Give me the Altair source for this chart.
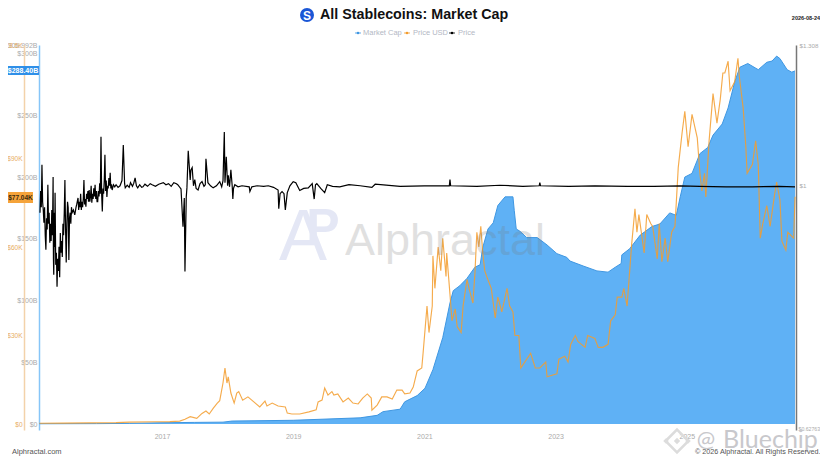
import altair as alt
import pandas as pd

cap_years = [2015.13,2016.0,2016.5,2017.0,2017.5,2017.93,2018.07,2019.0,2020.02,2020.28,2020.37,2020.63,2020.70,2020.89,2021.01,2021.13,2021.28,2021.39,2021.44,2021.54,2021.65,2021.77,2021.85,2021.89,2021.97,2022.05,2022.12,2022.23,2022.35,2022.37,2022.40,2022.46,2022.56,2022.72,2022.87,2023.02,2023.17,2023.22,2023.42,2023.63,2023.80,2023.91,2024.00,2024.01,2024.13,2024.29,2024.47,2024.59,2024.74,2024.84,2024.90,2024.97,2025.08,2025.20,2025.32,2025.40,2025.54,2025.63,2025.73,2025.81,2025.93,2026.09,2026.22,2026.30,2026.37,2026.42,2026.53,2026.60,2026.65]
cap_values = [0.2,0.3,0.5,1,1.3,1.5,2.4,3,5,7,10,12,18,23,29,44,70,98,108,112,118,127,129,143,158,163,177,184,184,173,158,156,151,151,145,138,135,132,128,124,123,127,130,137,142,153,160,162,171,169,184,200,203,219,224,234,243,256,277,289,292,287,293,294,298,296,287,285,286]

usd_years = [2015.13,2015.5,2015.9,2016.3,2016.5,2016.9,2017.12,2017.27,2017.35,2017.43,2017.53,2017.61,2017.67,2017.72,2017.78,2017.84,2017.88,2017.93,2017.96,2017.99,2018.01,2018.05,2018.10,2018.14,2018.17,2018.23,2018.31,2018.40,2018.49,2018.57,2018.60,2018.68,2018.77,2018.88,2018.91,2018.98,2019.10,2019.24,2019.35,2019.38,2019.44,2019.48,2019.53,2019.59,2019.62,2019.68,2019.76,2019.84,2019.91,2019.99,2020.06,2020.13,2020.19,2020.20,2020.28,2020.35,2020.43,2020.51,2020.58,2020.66,2020.70,2020.78,2020.83,2020.89,2020.93,2020.96,2020.98,2021.01,2021.04,2021.07,2021.12,2021.13,2021.16,2021.21,2021.25,2021.28,2021.33,2021.34,2021.39,2021.42,2021.47,2021.50,2021.56,2021.59,2021.65,2021.68,2021.74,2021.77,2021.80,2021.83,2021.86,2021.89,2021.92,2021.95,2022.02,2022.08,2022.12,2022.18,2022.26,2022.30,2022.35,2022.38,2022.44,2022.47,2022.56,2022.62,2022.69,2022.76,2022.85,2022.87,2023.02,2023.05,2023.14,2023.19,2023.23,2023.30,2023.34,2023.45,2023.49,2023.60,2023.65,2023.72,2023.80,2023.84,2023.91,2023.94,2024.01,2024.04,2024.09,2024.13,2024.16,2024.21,2024.24,2024.27,2024.35,2024.39,2024.45,2024.48,2024.55,2024.58,2024.62,2024.67,2024.71,2024.77,2024.82,2024.87,2024.93,2024.97,2025.02,2025.08,2025.16,2025.20,2025.23,2025.27,2025.29,2025.34,2025.40,2025.46,2025.51,2025.55,2025.58,2025.63,2025.66,2025.73,2025.78,2025.80,2025.86,2025.90,2025.92,2026.00,2026.05,2026.09,2026.12,2026.16,2026.22,2026.27,2026.34,2026.37,2026.42,2026.45,2026.51,2026.54,2026.63,2026.65]
usd_values = [0.25,0.3,0.4,0.45,0.65,0.75,0.8,1,1.6,2.5,1.9,3.6,4.4,3.4,5.3,7,7.9,13.9,19,13.9,16,10.5,7.1,10.5,11,8.1,9.2,7.5,5.8,7.8,6.1,7.1,6.1,5.8,3.7,3.4,3.4,4.1,4.8,7.5,8.1,12.2,9.8,11,9.8,10.2,7.5,8.8,7.1,6.8,8.8,10.2,8.8,4.7,6.4,9.2,9.2,8.5,11.5,11.5,10.2,10.5,12.5,18,18.6,19,24,32,40,31,40,57,46,60,52,63,50,58,44,35,39,33,31,40,49,46,41,51,65,60,67,58,52,50,46,36,43,38,46,40,38,30,30,19,22,24,19,19,21,16,17,22,23,21,27,30,28,26,30,29,26,26,27,35,37,43,43,46,40,52,61,73,65,71,58,71,68,67,56,68,55,63,55,65,67,87,99,106,94,105,97,85,79,85,77,96,112,102,110,119,119,123,113,116,124,118,107,94,85,88,96,88,63,68,74,67,78,82,76,62,59,65,63,77.04]

peg_points = [
 (2015.14,.950),(2015.15,.99),(2015.16,.96),(2015.17,1.041),(2015.18,.97),(2015.19,.955),(2015.20,.932),(2015.21,.96),(2015.22,.91),(2015.23,.885),
 (2015.24,.94),(2015.25,.92),(2015.26,1.002),(2015.27,.93),(2015.28,.95),(2015.29,.897),(2015.30,.93),(2015.31,.90),(2015.32,.955),(2015.33,.91),
 (2015.34,1.017),(2015.345,.87),(2015.35,.844),(2015.36,.95),(2015.365,.89),(2015.37,.987),(2015.38,.86),(2015.39,.88),(2015.40,.825),(2015.41,.87),
 (2015.42,.85),(2015.43,.89),(2015.44,.84),(2015.45,.914),(2015.46,.88),(2015.47,.90),(2015.48,.873),(2015.49,.93),(2015.50,.91),(2015.51,.95),
 (2015.52,1.011),(2015.53,.92),(2015.54,.864),(2015.55,.93),(2015.56,.97),(2015.57,.959),(2015.58,.868),(2015.59,.94),(2015.60,.95),(2015.61,.93),
 (2015.62,.96),(2015.63,.950),(2015.65,.955),(2015.67,.946),(2015.69,.96),(2015.70,.965),(2015.72,.977),(2015.73,.955),(2015.74,.97),(2015.75,.96),
 (2015.76,.985),(2015.77,.955),(2015.78,.97),(2015.79,.96),(2015.80,.975),(2015.81,1.011),(2015.82,.965),(2015.83,.975),(2015.84,.961),(2015.85,.985),
 (2015.86,.975),(2015.87,.99),(2015.88,.97),(2015.89,.992),(2015.90,.97),(2015.91,.98),(2015.92,1.0),(2015.93,.968),(2015.94,.985),(2015.95,.975),
 (2015.96,.995),(2015.97,.98),(2015.98,1.002),(2015.99,.975),(2016.0,.99),(2016.01,.97),(2016.02,.970),(2016.03,.99),(2016.04,.98),(2016.05,1.005),
 (2016.06,.985),(2016.07,1.098),(2016.08,.985),(2016.09,.952),(2016.10,.995),(2016.11,.985),(2016.12,1.01),(2016.13,1.061),(2016.14,.99),(2016.15,1.01),
 (2016.16,.979),(2016.17,1.0),(2016.18,.995),(2016.19,1.015),(2016.20,1.0),(2016.21,1.025),(2016.22,.995),(2016.23,1.003),(2016.24,.992),(2016.26,1.002),
 (2016.28,.998),(2016.30,1.002),(2016.33,.997),(2016.36,1.0),(2016.39,1.01),(2016.41,1.081),(2016.43,1.004),(2016.44,.996),(2016.47,1.001),(2016.50,.997),
 (2016.52,1.006),(2016.55,.999),(2016.57,1.005),(2016.59,1.015),(2016.61,1.0),(2016.63,.996),(2016.66,1.002),(2016.69,.997),(2016.71,.998),(2016.74,1.003),
 (2016.78,.999),(2016.82,1.004),(2016.85,1.002),(2016.9,.999),(2016.95,1.003),(2017.02,1.006),(2017.06,1.002),(2017.10,1.004),(2017.14,.999),(2017.18,1.006),
 (2017.22,1.004),(2017.24,1.002),(2017.29,.994),(2017.32,.925),(2017.34,.977),(2017.35,.849),(2017.37,.979),(2017.38,.996),(2017.40,1.069),(2017.43,1.011),
 (2017.44,1.03),(2017.46,1.035),(2017.48,1.0),(2017.50,1.012),(2017.52,.995),(2017.55,.992),(2017.58,1.004),(2017.61,1.008),(2017.64,.999),(2017.66,1.002),
 (2017.67,1.053),(2017.70,1.006),(2017.74,1.0),(2017.78,.996),(2017.83,1.0),(2017.88,1.008),(2017.91,.998),(2017.93,1.01),(2017.95,1.108),(2017.96,1.006),
 (2017.98,1.057),(2018.0,1.0),(2018.01,1.02),(2018.03,.998),(2018.05,1.031),(2018.07,1.0),(2018.08,.975),(2018.09,.995),(2018.11,1.002),(2018.16,.998),
 (2018.22,1.0),(2018.33,.998),(2018.34,.989),(2018.37,.998),(2018.45,1.0),(2018.55,.999),(2018.62,1.0),(2018.70,.997),(2018.77,.992),(2018.78,.957),
 (2018.80,.985),(2018.83,.989),(2018.86,.985),(2018.88,.955),(2018.91,.987),(2018.95,1.0),(2019.0,1.008),(2019.04,1.006),(2019.10,.991),(2019.16,.995),
 (2019.23,.996),(2019.29,1.004),(2019.32,.975),(2019.34,1.002),(2019.36,1.004),(2019.42,.995),(2019.48,.987),(2019.52,1.002),(2019.6,.999),(2019.71,.998),
 (2019.85,1.002),(2020.02,1.0),(2020.2,.997),(2020.25,1.003),(2020.63,.999),(2021.0,1.0),(2021.38,1.0),(2021.39,1.012),(2021.40,1.0),(2021.8,.999),
 (2022.15,1.001),(2022.5,.999),(2022.75,1.0),(2022.76,1.006),(2022.77,1.0),(2023.2,.999),(2023.6,1.0),(2024.1,.999),(2024.5,.999),(2024.9,1.0),
 (2025.2,.999),(2025.6,.998),(2026.0,.998),(2026.4,.999),(2026.65,.998),
]

x_ticks = [2017, 2019, 2021, 2023, 2025]
cap_ticks = [0, 50, 100, 150, 200, 250, 300, 306.992]
usd_ticks = [0, 30, 60, 90, 128.5]
peg_ticks = [1, 1.308]

FONT = "Liberation Sans"
LEFT, TOP = 39, 45

xs = alt.Scale(domain=[2015.125, 2026.665], nice=False, zero=False)
xa = alt.Axis(values=x_ticks, format="d", title=None, grid=False, domain=False, ticks=False,
              labelColor="#aaaaaa", labelFont=FONT, labelFontSize=7, labelPadding=2)
X = alt.X("year:Q", scale=xs, axis=xa)


def note(text, px, py, size, color, align="center", weight="normal", font=FONT, opacity=1.0):
    return alt.Chart(pd.DataFrame({"t": [text]})).mark_text(
        align=align, baseline="middle", font=font, fontSize=size, color=color,
        fontWeight=weight, opacity=opacity
    ).encode(x=alt.value(px - LEFT), y=alt.value(py - TOP), text="t:N")


def dot(px, py, size, color, shape="circle", filled=True, stroke=1.0):
    return alt.Chart(pd.DataFrame({"a": [1]})).mark_point(
        shape=shape, filled=filled, size=size, color=color, opacity=1, strokeWidth=stroke
    ).encode(x=alt.value(px - LEFT), y=alt.value(py - TOP))


def box(x1, x2, y1, y2, color):
    return alt.Chart(pd.DataFrame({"a": [1]})).mark_rect(color=color).encode(
        x=alt.value(x1 - LEFT), x2=alt.value(x2 - LEFT),
        y=alt.value(y1 - TOP), y2=alt.value(y2 - TOP))


cap = alt.Chart(pd.DataFrame({"year": cap_years, "v": cap_values})).mark_area(
    color="#5fb1f5", opacity=1, line={"color": "#3f97e2", "strokeWidth": 1}
).encode(
    x=X,
    y=alt.Y("v:Q", scale=alt.Scale(domain=[-4.86, 306.992], nice=False, zero=False),
            axis=alt.Axis(orient="left", values=cap_ticks, title=None, grid=False, ticks=False,
                          domainColor="#86c5f8", domainWidth=1.5, labelColor="#aaaaaa",
                          labelFont=FONT, labelFontSize=7, labelPadding=2, labelOverlap=False,
                          labelExpr="datum.value > 301 ? '$306.992B' : datum.value == 0 ? '$0' : '$' + datum.value + 'B'")),
)

usd = alt.Chart(pd.DataFrame({"year": usd_years, "v": usd_values})).mark_line(
    color="#f39c2d", strokeWidth=1.15, opacity=0.85
).encode(
    x=X,
    y=alt.Y("v:Q", scale=alt.Scale(domain=[-2.03, 128.5], nice=False, zero=False),
            axis=alt.Axis(orient="left", offset=15, values=usd_ticks, title=None, grid=False, ticks=False,
                          domainColor="#f3d2aa", domainWidth=1.5, labelColor="#e8ac62",
                          labelFont=FONT, labelFontSize=6.5, labelPadding=2, labelOverlap=False,
                          labelExpr="datum.value > 100 ? '$128.5K' : datum.value == 0 ? '$0' : '$' + datum.value + 'K'")),
)

peg = alt.Chart(pd.DataFrame(peg_points, columns=["year", "v"])).mark_line(
    color="#000000", strokeWidth=1.2
).encode(
    x=X,
    y=alt.Y("v:Q", scale=alt.Scale(type="log", domain=[0.62763, 1.308], nice=False),
            axis=alt.Axis(orient="right", values=peg_ticks, title=None, grid=False, ticks=False,
                          domainColor="#777777", domainWidth=1.5, labelColor="#aaaaaa",
                          labelFont=FONT, labelFontSize=6.2, labelPadding=3, labelOverlap=False,
                          labelExpr="'$' + datum.value")),
)

layers = [
    cap, usd, peg,
    note("A", 303, 238, 72, "#e4e7f5"),
    note("P", 323, 229, 50, "#e4e7f5", weight="bold"),
    note("Alphractal", 345, 241, 45, "#777777", align="left", opacity=0.22),
    dot(307, 15, 196, "#1a56d6"),
    note("S", 307, 15.5, 12, "#ffffff", weight="bold"),
    note("All Stablecoins: Market Cap", 320, 15, 14.3, "#111111", align="left", weight="bold"),
    box(355, 361, 32.6, 33.4, "#3f97e2"), dot(358, 33, 7, "#3f97e2"),
    note("Market Cap", 363, 33, 7.5, "#b3b8c4", align="left"),
    box(404, 410, 32.6, 33.4, "#f39c2d"), dot(407, 33, 7, "#f39c2d"),
    note("Price USD", 413, 33, 7.5, "#b3b8c4", align="left"),
    box(449, 455, 32.6, 33.4, "#000000"), dot(452, 33, 7, "#000000"),
    note("Price", 458, 33, 7.5, "#b3b8c4", align="left"),
    note("2026-08-24", 820, 18, 5.5, "#222222", align="right", weight="bold"),
    box(8, 33, 192, 203, "#f5a33a"),
    note("$77.04K", 20.5, 197.5, 6.5, "#3a2a10", weight="bold"),
    box(8, 39, 66, 75, "#2e8fe8"),
    note("$288.40B", 23, 70.5, 7, "#ffffff", weight="bold"),
    note("$0.62763", 798.5, 429, 5.2, "#aaaaaa", align="left"),
    note("Alphractal.com", 12, 452, 7.5, "#555555", align="left"),
    dot(677, 441, 520, "#dcdcdc", shape="diamond", filled=False, stroke=2.5),
    dot(677, 441, 40, "#dcdcdc", shape="diamond"),
    dot(666, 441, 30, "#dcdcdc", shape="diamond"),
    dot(688, 441, 30, "#dcdcdc", shape="diamond"),
    note("@", 706, 440, 22, "#c8c8cc", font="Lato"),
    note("Bluechip", 723, 440, 25, "#c8c8cc", align="left", font="Lato"),
    note("© 2026 Alphractal. All Rights Reserved.", 695, 452, 7.2, "#555555", align="left"),
]

chart = alt.layer(*layers).resolve_scale(y="independent").properties(
    width=757, height=385,
    padding={"left": 31, "top": 37, "right": 24, "bottom": 28},
    autosize=alt.AutoSizeParams(type="none"),
    background="#ffffff",
).configure_view(stroke=None)

chart.save("out.html", embed_options={"renderer": "svg", "actions": False})
